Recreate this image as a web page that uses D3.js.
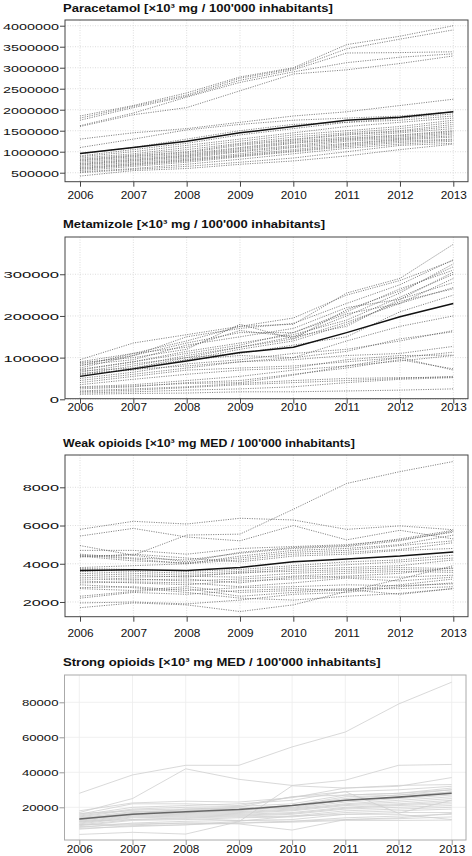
<!DOCTYPE html>
<html><head><meta charset="utf-8">
<script src="https://cdn.jsdelivr.net/npm/d3@7"></script>
<style>
html,body{margin:0;padding:0;background:#fff;}
svg{display:block;}
text{font-family:"Liberation Sans",Arial,sans-serif;fill:#111;}
</style></head><body>
<svg id="c" width="472" height="856"></svg>
<script>
const years = [2006, 2007, 2008, 2009, 2010, 2011, 2012, 2013];

// ---------- Paracetamol (x10^3 mg / 100'000 inhabitants) ----------
const paraTitle = "Paracetamol [×10³ mg / 100'000 inhabitants]";
const paraTicks = [500000, 1000000, 1500000, 2000000, 2500000, 3000000, 3500000, 4000000];
const paraMean = [960000, 1100000, 1250000, 1450000, 1600000, 1750000, 1820000, 1950000];
const paraSeries = [
  [1850000, 2100000, 2400000, 2780000, 3000000, 3550000, 3750000, 4000000],
  [1800000, 2080000, 2350000, 2750000, 2980000, 3450000, 3680000, 3900000],
  [1750000, 2050000, 2320000, 2700000, 2950000, 3350000, 3360000, 3380000],
  [1620000, 1920000, 2300000, 2650000, 2900000, 3120000, 3250000, 3330000],
  [1600000, 1880000, 2050000, 2450000, 2850000, 2950000, 3100000, 3280000],
  [1300000, 1450000, 1550000, 1700000, 1850000, 1950000, 2100000, 2250000],
  [1100000, 1300000, 1520000, 1650000, 1750000, 1800000, 1850000, 1950000],
  [950000, 1100000, 1300000, 1500000, 1650000, 1700000, 1800000, 1900000],
  [900000, 1050000, 1200000, 1400000, 1550000, 1700000, 1750000, 1850000],
  [880000, 1000000, 1150000, 1300000, 1450000, 1600000, 1700000, 1800000],
  [850000, 950000, 1100000, 1250000, 1400000, 1500000, 1600000, 1750000],
  [820000, 920000, 1050000, 1200000, 1350000, 1450000, 1550000, 1700000],
  [800000, 900000, 1000000, 1180000, 1300000, 1420000, 1500000, 1650000],
  [780000, 880000, 980000, 1150000, 1280000, 1400000, 1480000, 1600000],
  [750000, 850000, 950000, 1100000, 1250000, 1350000, 1450000, 1550000],
  [720000, 820000, 920000, 1080000, 1220000, 1320000, 1400000, 1500000],
  [700000, 800000, 900000, 1050000, 1200000, 1300000, 1380000, 1480000],
  [680000, 780000, 880000, 1020000, 1150000, 1280000, 1350000, 1450000],
  [650000, 750000, 850000, 1000000, 1120000, 1250000, 1320000, 1420000],
  [620000, 720000, 820000, 950000, 1100000, 1200000, 1300000, 1380000],
  [600000, 700000, 800000, 920000, 1050000, 1180000, 1280000, 1350000],
  [580000, 680000, 780000, 900000, 1020000, 1150000, 1250000, 1300000],
  [550000, 650000, 750000, 880000, 1000000, 1120000, 1220000, 1280000],
  [520000, 600000, 700000, 820000, 950000, 1080000, 1180000, 1250000],
  [500000, 580000, 650000, 750000, 850000, 1000000, 1150000, 1200000],
  [420000, 550000, 600000, 700000, 780000, 900000, 1050000, 1180000]
];

// ---------- Metamizole ----------
const metaTitle = "Metamizole [×10³ mg / 100'000 inhabitants]";
const metaTicks = [0, 100000, 200000, 300000];
const metaMean = [55000, 73000, 92000, 112000, 125000, 160000, 198000, 230000];
const metaSeries = [
  [90000, 110000, 140000, 175000, 180000, 255000, 290000, 372000],
  [95000, 135000, 155000, 175000, 195000, 250000, 285000, 333000],
  [85000, 105000, 150000, 170000, 182000, 230000, 275000, 335000],
  [80000, 110000, 125000, 165000, 150000, 200000, 255000, 325000],
  [88000, 100000, 120000, 180000, 145000, 215000, 260000, 318000],
  [75000, 105000, 135000, 160000, 160000, 210000, 265000, 310000],
  [82000, 95000, 130000, 150000, 170000, 220000, 240000, 305000],
  [70000, 90000, 115000, 135000, 155000, 190000, 245000, 300000],
  [65000, 85000, 100000, 125000, 145000, 185000, 230000, 290000],
  [60000, 80000, 105000, 125000, 150000, 175000, 240000, 280000],
  [72000, 90000, 110000, 130000, 160000, 205000, 230000, 268000],
  [68000, 75000, 95000, 120000, 140000, 180000, 235000, 265000],
  [55000, 75000, 100000, 110000, 130000, 150000, 210000, 250000],
  [62000, 70000, 95000, 105000, 100000, 140000, 175000, 200000],
  [50000, 65000, 85000, 95000, 110000, 120000, 140000, 165000],
  [45000, 60000, 75000, 90000, 100000, 115000, 145000, 162000],
  [58000, 72000, 80000, 90000, 95000, 105000, 110000, 127000],
  [40000, 55000, 70000, 75000, 80000, 90000, 100000, 113000],
  [35000, 48000, 60000, 70000, 75000, 95000, 105000, 106000],
  [30000, 35000, 45000, 55000, 70000, 80000, 100000, 70000],
  [25000, 30000, 40000, 45000, 60000, 75000, 95000, 73000],
  [28000, 32000, 38000, 40000, 58000, 80000, 92000, 105000],
  [20000, 25000, 30000, 38000, 45000, 50000, 52000, 53000],
  [18000, 22000, 28000, 35000, 40000, 45000, 50000, 55000],
  [12000, 14000, 15000, 18000, 18000, 20000, 22000, 25000],
  [15000, 18000, 22000, 25000, 30000, 40000, 48000, 52000]
];

// ---------- Weak opioids ----------
const weakTitle = "Weak opioids [×10³ mg MED / 100'000 inhabitants]";
const weakTicks = [2000, 4000, 6000, 8000];
const weakMean = [3650, 3680, 3650, 3800, 4100, 4250, 4400, 4620];
const weakSeries = [
  [4400, 4450, 5500, 5550, 6850, 8200, 8820, 9350],
  [5800, 6220, 6080, 6380, 6290, 5800, 5980, 5780],
  [5450, 5850, 5400, 5200, 6000, 5250, 5750, 5300],
  [4950, 4450, 4100, 4600, 4850, 4950, 5300, 5750],
  [4700, 4700, 4500, 4800, 4900, 5000, 5250, 5650],
  [4500, 4300, 4200, 4550, 4800, 4900, 5200, 5700],
  [4450, 4250, 4000, 4400, 4700, 4800, 5000, 5500],
  [4400, 4150, 4050, 4300, 4600, 4700, 4950, 5200],
  [4350, 4500, 4300, 4100, 4400, 4500, 4700, 4800],
  [3800, 3900, 4000, 4200, 4500, 4600, 4750, 5100],
  [3750, 3700, 3600, 3700, 3900, 4100, 4200, 4450],
  [3700, 3600, 3500, 3600, 3800, 3950, 4100, 4300],
  [3600, 3500, 3400, 3500, 3700, 3800, 3900, 4200],
  [3500, 3400, 3300, 3550, 3600, 3700, 3800, 3750],
  [3400, 3300, 3350, 3300, 3500, 3600, 3700, 3650],
  [3300, 3200, 3100, 3200, 3350, 3500, 3600, 3550],
  [3200, 3150, 3200, 3000, 3300, 3350, 3500, 3800],
  [3100, 3000, 2900, 3100, 3200, 3300, 3300, 3400],
  [3000, 3050, 3000, 2800, 3000, 3250, 3100, 3300],
  [2750, 2800, 2600, 2750, 2800, 2900, 2850, 2950],
  [2700, 2600, 2800, 2500, 2600, 2700, 2700, 2800],
  [2300, 2550, 2700, 2300, 2500, 2650, 2400, 2700],
  [2200, 2500, 2400, 2600, 2700, 2600, 2900, 3200],
  [1950, 2000, 1900, 2100, 2400, 2500, 2800, 3000],
  [1700, 1950, 1850, 1500, 1850, 2550, 3200, 3900],
  [2900, 2750, 2500, 2200, 2100, 2300, 2450, 2700]
];

// ---------- Strong opioids ----------
const strongTitle = "Strong opioids [×10³ mg MED / 100'000 inhabitants]";
const strongTicks = [20000, 40000, 60000, 80000];
const strongMean = [13300, 16000, 17500, 18700, 21000, 24000, 25800, 28000];
const strongSeries = [
  [28000, 38500, 44000, 44000, 54500, 63000, 79000, 91500],
  [17000, 25000, 42000, 36000, 32500, 35500, 44000, 44500],
  [4500, 5700, 4700, 11800, 32300, 31000, 32500, 33000],
  [18000, 22500, 23500, 23000, 25500, 31000, 32000, 37000],
  [16000, 22000, 22000, 21000, 26000, 28900, 16600, 24000],
  [15500, 20000, 21000, 22000, 24000, 29000, 30000, 32000],
  [15000, 19000, 20000, 20500, 22000, 27000, 28000, 31000],
  [14500, 18500, 19000, 19500, 21000, 25000, 27000, 30000],
  [14000, 17500, 18500, 19000, 20000, 24000, 25500, 29000],
  [13500, 17000, 18000, 18500, 19500, 23000, 25000, 27000],
  [13000, 16500, 17000, 17500, 19000, 22000, 24000, 26000],
  [12500, 16000, 16500, 17000, 18500, 21500, 23000, 25000],
  [12000, 15500, 16000, 16500, 18000, 21000, 22000, 24000],
  [11500, 15000, 15500, 16000, 17000, 20000, 21500, 23000],
  [11000, 14500, 15000, 15500, 16500, 19500, 21000, 22000],
  [10500, 14000, 14500, 15000, 16000, 19000, 20000, 21000],
  [10000, 13000, 14000, 14500, 15000, 18000, 19000, 20000],
  [9500, 12500, 13000, 14000, 14500, 17000, 18000, 19000],
  [9000, 10000, 11000, 10500, 7000, 13000, 14000, 16500],
  [8500, 11000, 12000, 12500, 13000, 16000, 17000, 17000],
  [8000, 9000, 10000, 11000, 12000, 14000, 15000, 16000],
  [12000, 13000, 13500, 12500, 12000, 13000, 13500, 14500],
  [10000, 10500, 11000, 11000, 11500, 12500, 12500, 12700],
  [7500, 9500, 10000, 12000, 15000, 16000, 16000, 13000],
  [16500, 18000, 17000, 18000, 21000, 26000, 27000, 28500],
  [13000, 16000, 19000, 20000, 26000, 27000, 28000, 30000]
];

// ---------- layout / style (not data) ----------
const panels = [
  {title: paraTitle, ticks: paraTicks, mean: paraMean, series: paraSeries,
   box: {l: 65, r: 468, t: 20, b: 181.7}, xr: [80, 453.3], yd: [286000, 4136000],
   titleY: 11.5, titleW: 270, xLabY: 199.5, yLabSx: 1.5, yLabFs: 9.6, style: "r"},
  {title: metaTitle, ticks: metaTicks, mean: metaMean, series: metaSeries,
   box: {l: 65, r: 468, t: 237, b: 398.7}, xr: [80, 453.3], yd: [1440, 389400],
   titleY: 228, titleW: 262, xLabY: 411, yLabSx: 1.7, yLabFs: 9.8, style: "r"},
  {title: weakTitle, ticks: weakTicks, mean: weakMean, series: weakSeries,
   box: {l: 65, r: 468, t: 455, b: 616.7}, xr: [80, 453.3], yd: [1230, 9690],
   titleY: 447, titleW: 292, xLabY: 637, yLabSx: 1.7, yLabFs: 9.6, style: "r"},
  {title: strongTitle, ticks: strongTicks, mean: strongMean, series: strongSeries,
   box: {l: 64.5, r: 466, t: 675, b: 840}, xr: [79.3, 451.7], yd: [1314, 95600],
   titleY: 666, titleW: 318, xLabY: 852.5, yLabSx: 1.4, yLabFs: 9.4, style: "g"}
];

const svg = d3.select("#c");

panels.forEach(p => {
  const g = svg.append("g");
  const x = d3.scaleLinear().domain([years[0], years[years.length - 1]]).range(p.xr);
  const y = d3.scaleLinear().domain(p.yd).range([p.box.b, p.box.t]);
  const R = p.style === "r";
  const gridCol = R ? "#d4d4d4" : "#ececec";
  const gridDash = R ? "1,1.5" : null;

  // grid
  g.append("g").selectAll("line").data(years).join("line")
    .attr("x1", d => x(d)).attr("x2", d => x(d))
    .attr("y1", p.box.t).attr("y2", p.box.b)
    .attr("stroke", gridCol).attr("stroke-width", 0.8)
    .attr("stroke-dasharray", gridDash);
  g.append("g").selectAll("line").data(p.ticks).join("line")
    .attr("x1", p.box.l).attr("x2", p.box.r)
    .attr("y1", d => y(d)).attr("y2", d => y(d))
    .attr("stroke", gridCol).attr("stroke-width", 0.8)
    .attr("stroke-dasharray", gridDash);

  // series
  const line = d3.line().x((d, i) => x(years[i])).y(d => y(d));
  g.append("g").selectAll("path").data(p.series).join("path")
    .attr("d", line).attr("fill", "none")
    .attr("stroke", R ? "#606060" : "#cfcfcf")
    .attr("stroke-width", 0.8)
    .attr("stroke-dasharray", R ? "1.1,1.3" : null);
  g.append("path").datum(p.mean).attr("d", line).attr("fill", "none")
    .attr("stroke", R ? "#111" : "#666").attr("stroke-width", R ? 1.5 : 1.6);

  // box
  g.append("rect").attr("x", p.box.l).attr("y", p.box.t)
    .attr("width", p.box.r - p.box.l).attr("height", p.box.b - p.box.t)
    .attr("fill", "none").attr("stroke", R ? "#444" : "#aaa").attr("stroke-width", 1);

  // axes via d3 axis generators
  const xAxis = d3.axisBottom(x).tickValues(years).tickFormat(d3.format("d"))
    .tickSize(5).tickPadding(0);
  const xg = g.append("g").attr("transform", `translate(0,${p.box.b})`).call(xAxis);
  xg.select(".domain").remove();
  xg.selectAll(".tick line").attr("stroke", R ? "#444" : "#999");
  xg.selectAll(".tick text").attr("font-size", 11.8).attr("fill", "#111")
    .attr("y", p.xLabY - p.box.b).attr("dy", null)
    .attr("font-family", "Liberation Sans, Arial, sans-serif");

  const yAxis = d3.axisLeft(y).tickValues(p.ticks).tickFormat(d3.format("d"))
    .tickSize(5).tickPadding(0);
  const yg = g.append("g").attr("transform", `translate(${p.box.l},0)`).call(yAxis);
  yg.select(".domain").remove();
  yg.selectAll(".tick line").attr("stroke", R ? "#444" : "#999");
  yg.selectAll(".tick text").attr("font-size", p.yLabFs).attr("fill", "#111")
    .attr("x", 0).attr("dy", "0.35em")
    .attr("font-family", "Liberation Sans, Arial, sans-serif")
    .attr("transform", `translate(${-(65 - 59)},0) scale(${p.yLabSx},1)`);

  // title
  const t = g.append("text").attr("font-weight", "bold").attr("font-size", 10.4)
    .attr("text-anchor", "start").text(p.title);
  const w = t.node().getComputedTextLength();
  t.attr("transform", `translate(63,${p.titleY}) scale(${p.titleW / w},1)`);
});
</script>
</body></html>
